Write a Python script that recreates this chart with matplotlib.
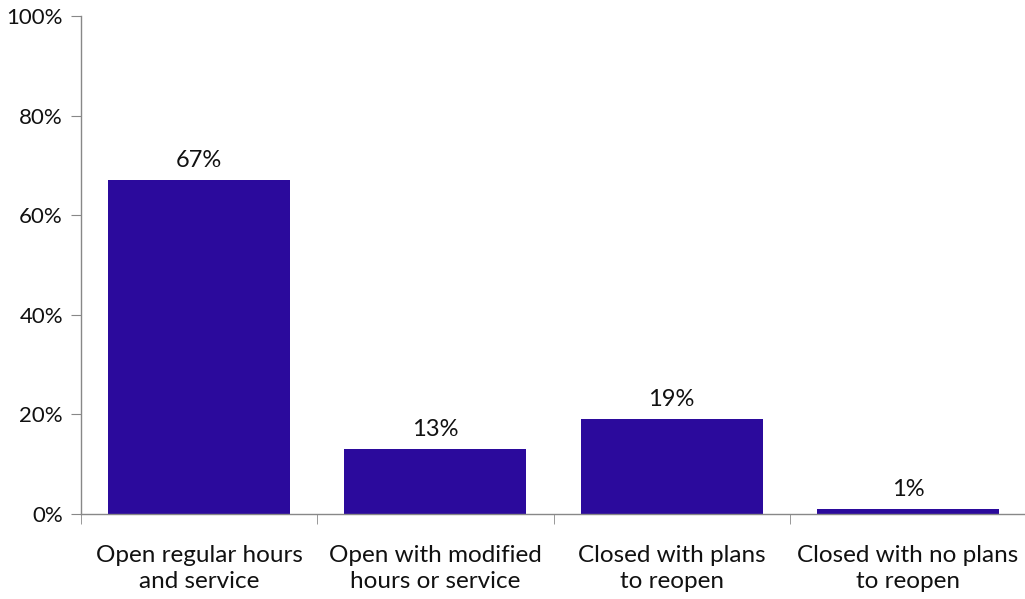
import matplotlib
matplotlib.use("Agg")
import matplotlib.pyplot as plt
import numpy as np

categories = ["Open regular hours\nand service", "Open with modified\nhours or service",
              "Closed with plans\nto reopen", "Closed with no plans\nto reopen"]
values = [67, 13, 19, 1]
yticks = [0, 20, 40, 60, 80, 100]

plt.rcParams['font.family'] = ['Lato', 'DejaVu Sans']

fig = plt.figure(figsize=(10.25, 5.99), dpi=100)
ax = fig.add_axes([81/1025, 85/599, (1026-81)/1025, (514-16)/599])

x = np.arange(len(categories))
bars = ax.bar(x, values, width=0.77, color="#2B0A9C")
for xi, v in zip(x, values):
    ax.text(xi, v + 1.8, f"{v}%", ha="center", va="bottom", fontsize=17, color="#111111")

ax.set_xlim(-0.5, len(categories) - 0.5)
ax.set_ylim(0, 100)
ax.set_yticks(yticks)
ax.set_yticklabels([f"{t}%" for t in yticks], fontsize=16, color="#111111")
ax.set_xticks(x)
ax.set_xticklabels(categories, fontsize=17.5, color="#111111", linespacing=1.3)
ax.set_xticks(np.arange(-0.5, len(categories)), minor=True)
ax.tick_params(axis="x", which="major", length=0, pad=22)
ax.tick_params(axis="x", which="minor", length=7, color="#888888", direction="out")
ax.tick_params(axis="y", length=7, color="#888888", direction="out", pad=6)

for s in ["top", "right"]:
    ax.spines[s].set_visible(False)
for s in ["left", "bottom"]:
    ax.spines[s].set_color("#888888")
    ax.spines[s].set_linewidth(1)

fig.savefig("out.png", dpi=100)
